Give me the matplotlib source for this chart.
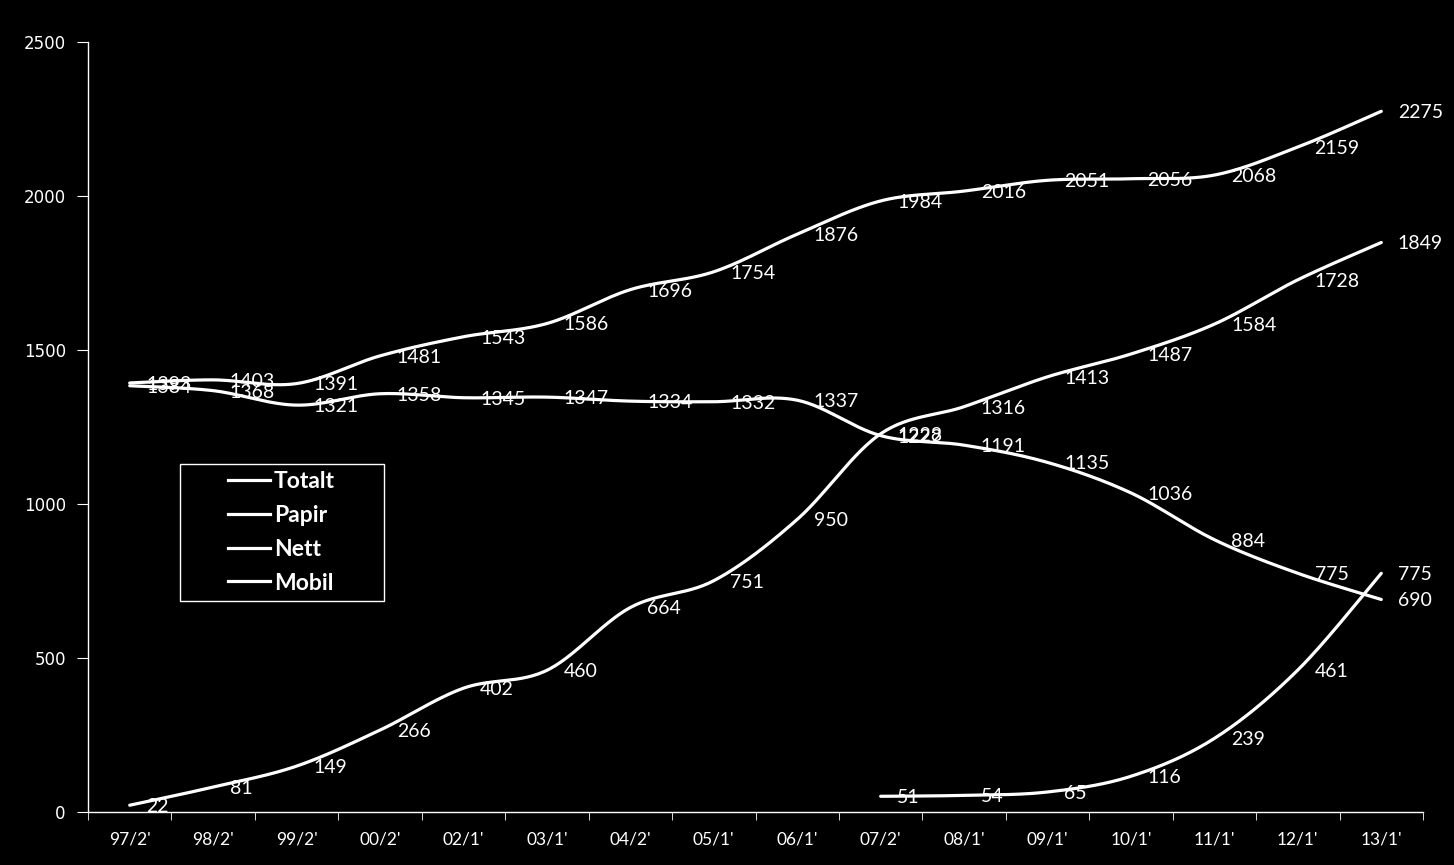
import numpy as np
import matplotlib
matplotlib.use("Agg")
import matplotlib.pyplot as plt
from matplotlib.lines import Line2D
from matplotlib.patches import Rectangle

categories = ["97/2'", "98/2'", "99/2'", "00/2'", "02/1'", "03/1'", "04/2'", "05/1'",
              "06/1'", "07/2'", "08/1'", "09/1'", "10/1'", "11/1'", "12/1'", "13/1'"]
totalt = [1393, 1403, 1391, 1481, 1543, 1586, 1696, 1754, 1876, 1984, 2016, 2051, 2056, 2068, 2159, 2275]
papir = [1384, 1368, 1321, 1358, 1345, 1347, 1334, 1332, 1337, 1222, 1191, 1135, 1036, 884, 775, 690]
nett = [22, 81, 149, 266, 402, 460, 664, 751, 950, 1228, 1316, 1413, 1487, 1584, 1728, 1849]
mobil = [None] * 9 + [51, 54, 65, 116, 239, 461, 775]

series = [("Totalt", totalt), ("Papir", papir), ("Nett", nett), ("Mobil", mobil)]

FONT = ["Lato", "DejaVu Sans"]
W, H = 1454, 865


def smooth(xs, ys, n=30):
    xs = np.asarray(xs, float)
    ys = np.asarray(ys, float)
    if len(xs) < 2:
        return xs, ys
    P = np.column_stack([xs, ys])
    P = np.vstack([P[0], P, P[-1]])
    out = []
    t = np.linspace(0, 1, n, endpoint=False)[:, None]
    for i in range(1, len(P) - 2):
        p0, p1, p2, p3 = P[i - 1], P[i], P[i + 1], P[i + 2]
        c1 = p1 + (p2 - p0) / 6.0
        c2 = p2 - (p3 - p1) / 6.0
        b = ((1 - t) ** 3) * p1 + 3 * ((1 - t) ** 2) * t * c1 + 3 * (1 - t) * t ** 2 * c2 + t ** 3 * p2
        out.append(b)
    out.append(P[-2][None, :])
    arr = np.vstack(out)
    return arr[:, 0], arr[:, 1]


fig = plt.figure(figsize=(W / 100, H / 100), dpi=100, facecolor="black")
ax = fig.add_axes([88 / W, 53 / H, 1335 / W, 770 / H])
ax.set_facecolor("black")

for name, vals in series:
    idx = [i for i, v in enumerate(vals) if v is not None]
    yv = [vals[i] for i in idx]
    sx, sy = smooth(np.array(idx) * 83.4, np.array(yv) * 0.308)
    ax.plot(sx / 83.4, sy / 0.308, color="white", lw=2.3, solid_capstyle="round")
    for i, v in zip(idx, yv):
        ax.annotate(str(v), (i, v), xytext=(12, -1), textcoords="offset points",
                    ha="left", va="center", color="white", fontsize=14, family=FONT)

ax.set_xlim(-0.5, len(categories) - 0.5)
ax.set_ylim(0, 2500)
ax.set_yticks([0, 500, 1000, 1500, 2000, 2500])
ax.set_xticks(range(len(categories)))
ax.set_xticklabels(categories, family=FONT, fontsize=12.5, color="white")
ax.set_xticks(np.arange(-0.5, len(categories), 1), minor=True)
ax.tick_params(axis="x", which="major", length=0, pad=14)
ax.tick_params(axis="x", which="minor", length=6, color="white", direction="out")
ax.tick_params(axis="y", length=8, color="white", direction="out", labelcolor="white",
               labelsize=12, pad=8)
for lab in ax.get_yticklabels():
    lab.set_family("DejaVu Sans")
for s in ["top", "right"]:
    ax.spines[s].set_visible(False)
for s in ["left", "bottom"]:
    ax.spines[s].set_color("white")
    ax.spines[s].set_linewidth(1)

# legend: frame box drawn separately to match the reference's wide box
fig.patches.append(Rectangle((180 / W, 1 - 601 / H), 204 / W, 137 / H,
                             transform=fig.transFigure, facecolor="black",
                             edgecolor="white", lw=1, zorder=5))
handles = [Line2D([0], [0], color="white", lw=2.3) for _ in series]
leg = fig.legend(handles, [n for n, _ in series], loc="upper left",
                 bbox_to_anchor=(228 / W, 1 - 471 / H),
                 frameon=False, handlelength=1.85, handletextpad=0.15, borderpad=0,
                 labelspacing=0.56, borderaxespad=0,
                 prop={"family": FONT, "weight": "bold", "size": 16.5})
leg.set_zorder(6)
for t in leg.get_texts():
    t.set_color("white")

fig.savefig("out.png", dpi=100, facecolor="black")
